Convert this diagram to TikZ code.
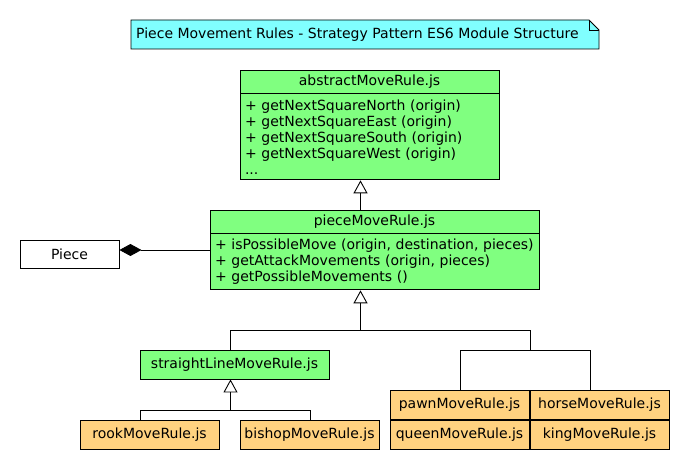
\documentclass[tikz,border=0pt]{standalone}
\usepackage{fontspec}
\setmainfont{DejaVu Sans}
\usepackage{tikz}
\usetikzlibrary{arrows.meta,positioning,calc}
\definecolor{notecyan}{HTML}{80FFFF}
\definecolor{rulegreen}{HTML}{80FF80}
\definecolor{ruleorange}{HTML}{FFD280}
\newcommand{\umlfont}{\fontsize{14}{16}\selectfont}

\begin{document}
\begin{tikzpicture}[x=1pt,y=-1pt,
    uml/.style={draw,line width=0.9pt,font=\umlfont,inner sep=0pt},
    classhead/.style={uml,fill=rulegreen,minimum height=23pt},
    classbody/.style={uml,fill=rulegreen,align=left,inner xsep=5pt},
    rulebox/.style={uml,fill=ruleorange,minimum width=139pt,minimum height=29pt},
    inherit/.style={-{Triangle[open,length=13pt,width=14pt]},line width=0.9pt},
    compose/.style={{Diamond[length=22pt,width=12pt]}-,line width=0.9pt}]
  \useasboundingbox (0,0) rectangle (690,470);

  % note
  \draw[fill=notecyan,line width=0.9pt] (131,20) -- (589,20) -- (599,30) -- (599,49) -- (131,49) -- cycle;
  \draw[line width=0.9pt] (589,20) |- (599,30);
  \node[font=\umlfont,anchor=west,inner sep=0pt] (note) at (136,34.5) {Piece Movement Rules - Strategy Pattern ES6 Module Structure};

  % abstract rule
  \node[classhead,minimum width=259pt] (abshead) at (369.5,81.5) {abstractMoveRule.js};
  \node[classbody,text width=249pt,minimum height=86pt,below=0pt of abshead] (absbody) {+ getNextSquareNorth (origin)\\+ getNextSquareEast (origin)\\+ getNextSquareSouth (origin)\\+ getNextSquareWest (origin)\\...};

  % piece rule
  \node[classhead,minimum width=329pt] (pmrhead) at (374.5,221.5) {pieceMoveRule.js};
  \node[classbody,text width=319pt,minimum height=56pt,below=0pt of pmrhead] (pmrbody) {+ isPossibleMove (origin, destination, pieces)\\+ getAttackMovements (origin, pieces)\\+ getPossibleMovements ()};

  \node[uml,fill=white,minimum width=99pt,minimum height=28pt] (piece) at (69.5,254) {Piece};

  % concrete rules
  \node[uml,fill=rulegreen,minimum width=189pt,minimum height=29pt] (slrule) at (234.5,364.5) {straightLineMoveRule.js};
  \node[rulebox] (rook) at (149.5,434.5) {rookMoveRule.js};
  \node[rulebox] (bishop) at (309.5,434.5) {bishopMoveRule.js};
  \node[rulebox] (pawn) at (459.5,404.5) {pawnMoveRule.js};
  \node[rulebox] (horse) at (599.5,404.5) {horseMoveRule.js};
  \node[rulebox] (queen) at (459.5,434.5) {queenMoveRule.js};
  \node[rulebox] (king) at (599.5,434.5) {kingMoveRule.js};

  \coordinate (j1) at (360.5,330.5);
  \coordinate (j2) at (530.5,350.5);
  \coordinate (j3) at (230.5,410.5);

  \draw[inherit] (pmrhead.north -| j1) -- (absbody.south -| j1);
  \draw[compose] ([yshift=4pt]piece.east) -- ([yshift=4pt]piece.east -| pmrbody.west);
  \draw[inherit] (j1) -- (j1 |- pmrbody.south);
  \draw[line width=0.9pt] ([xshift=-4pt]slrule.north) |- (j1) -| (j2);
  \draw[line width=0.9pt] ([xshift=0.5pt]pawn.north) |- (j2) -| ([xshift=-9pt]horse.north);
  \draw[inherit] (j3) -- (j3 |- slrule.south);
  \draw[line width=0.9pt] ([xshift=-9pt]rook.north) |- (j3) -| ([xshift=0.5pt]bishop.north);
\end{tikzpicture}
\end{document}
